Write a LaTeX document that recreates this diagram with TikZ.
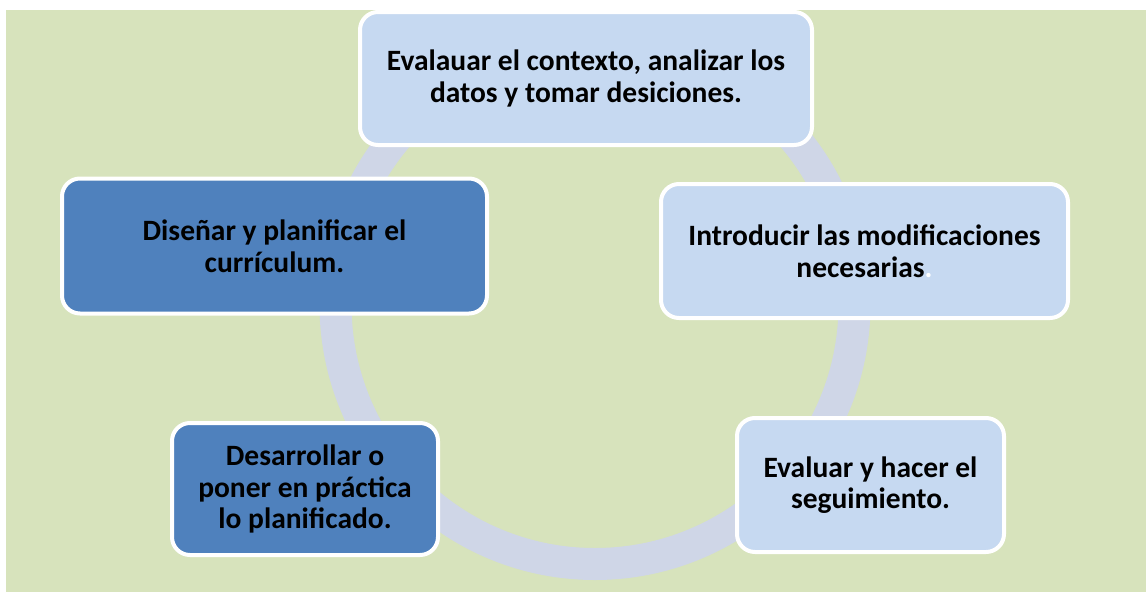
\documentclass[tikz,border=0pt]{standalone}
\usepackage{fontspec}
\setmainfont{Carlito}
\definecolor{bggreen}{HTML}{D7E3BC}
\definecolor{ringblue}{HTML}{CFD6E7}
\definecolor{darkbox}{HTML}{4F81BD}
\definecolor{lightbox}{HTML}{C6D9F1}
\begin{document}
\begin{tikzpicture}[x=1pt,y=-1pt,
  box/.style={draw=white, line width=4pt, rounded corners=18pt, align=center,
    font=\fontsize{29.5}{31.5}\selectfont\bfseries, text=black, inner sep=0pt},
  lbox/.style={box, fill=lightbox},
  dbox/.style={box, fill=darkbox}]
\useasboundingbox (0,0) rectangle (1146,592);
\fill[white] (0,0) rectangle (1146,592);
\fill[bggreen] (6,10) rectangle (1146,592);
\draw[ringblue, line width=32pt] (595,304.5) circle[radius=259.5];
\node[lbox, minimum width=452pt, minimum height=133pt] (ctx) at (586,78.5)
  {Evalauar el contexto, analizar los\\datos y tomar desiciones.};
\node[lbox, minimum width=407pt, minimum height=134pt] (mod) at (864.5,251)
  {Introducir las modificaciones\\necesarias\textcolor{white}{.}};
\node[lbox, minimum width=267pt, minimum height=134pt] (seg) at (870.5,485)
  {Evaluar y hacer el\\seguimiento.};
\node[dbox, minimum width=266pt, minimum height=132pt] (des) at (305,489)
  {Desarrollar o\\poner en práctica\\lo planificado.};
\node[dbox, minimum width=425pt, minimum height=135pt] (dis) at (274.5,246)
  {Diseñar y planificar el\\currículum.};
\end{tikzpicture}
\end{document}
